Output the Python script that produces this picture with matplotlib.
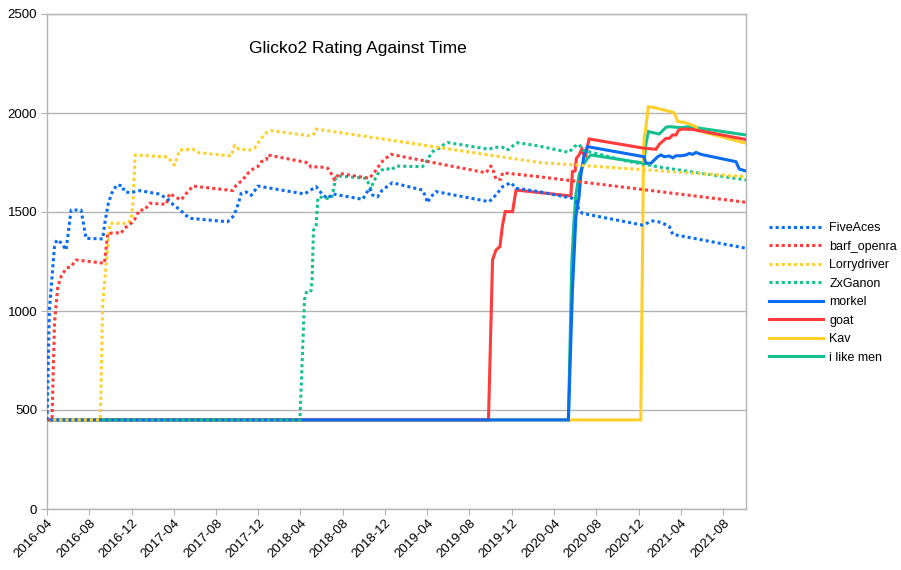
import matplotlib
matplotlib.use("Agg")
import matplotlib.pyplot as plt
import matplotlib.dates as mdates
from datetime import datetime, timedelta

# x values are decimal years, y values are Glicko2 ratings
fiveaces_t = [2016.25, 2016.268, 2016.308, 2016.326, 2016.363, 2016.400, 2016.439, 2016.518, 2016.557,
              2016.688, 2016.707, 2016.733, 2016.759, 2016.799, 2016.844, 2016.859, 2016.904, 2016.983,
              2017.127, 2017.193, 2017.246, 2017.299, 2017.338, 2017.377, 2017.671, 2017.713, 2017.740,
              2017.766, 2017.779, 2017.819, 2017.858, 2017.884, 2017.910, 2018.279, 2018.371, 2018.423,
              2018.462, 2018.502, 2018.738, 2018.791, 2018.815, 2018.854, 2018.893, 2018.972, 2019.209,
              2019.238, 2019.248, 2019.277, 2019.317, 2019.737, 2019.790, 2019.842, 2019.908, 2019.948,
              2020.133, 2020.394, 2020.421, 2020.447, 2020.473, 2020.946, 2021.025, 2021.091, 2021.157,
              2021.183, 2021.761]
fiveaces_r = [450, 1005, 1325, 1359, 1343, 1308, 1510, 1510, 1367,
              1364, 1451, 1544, 1594, 1636, 1633, 1603, 1597, 1608,
              1591, 1569, 1535, 1510, 1485, 1468, 1451, 1476, 1510,
              1564, 1594, 1601, 1584, 1606, 1631, 1591, 1628, 1586,
              1569, 1591, 1564, 1620, 1586, 1576, 1611, 1648, 1611,
              1574, 1547, 1577, 1603, 1552, 1586, 1628, 1648, 1620,
              1603, 1569, 1552, 1510, 1493, 1434, 1455, 1448, 1426,
              1387, 1317]

barf_t = [2016.25, 2016.289, 2016.308, 2016.334, 2016.360, 2016.400, 2016.439, 2016.479, 2016.702,
          2016.728, 2016.794, 2016.833, 2016.859, 2016.899, 2016.938, 2016.978, 2017.017, 2017.057,
          2017.188, 2017.214, 2017.254, 2017.306, 2017.346, 2017.398, 2017.713, 2017.740, 2017.792,
          2017.819, 2017.858, 2017.910, 2017.937, 2017.977, 2017.989, 2018.305, 2018.331, 2018.397,
          2018.462, 2018.489, 2018.515, 2018.554, 2018.791, 2018.844, 2018.883, 2018.909, 2018.962,
          2019.711, 2019.750, 2019.763, 2019.790, 2019.829, 2019.842, 2020.133, 2021.761]
barf_r = [450, 453, 938, 1123, 1173, 1216, 1224, 1258, 1241,
          1392, 1395, 1392, 1418, 1434, 1460, 1510, 1510, 1544,
          1539, 1594, 1577, 1561, 1594, 1631, 1608, 1636, 1662,
          1687, 1712, 1729, 1754, 1763, 1788, 1749, 1726, 1729,
          1721, 1695, 1662, 1695, 1670, 1712, 1749, 1766, 1791,
          1698, 1732, 1721, 1665, 1665, 1698, 1678, 1549]

lorry_t = [2016.25, 2016.670, 2016.688, 2016.733, 2016.747, 2016.891, 2016.917, 2016.930, 2016.944,
           2017.198, 2017.254, 2017.293, 2017.398, 2017.437, 2017.701, 2017.727, 2017.761, 2017.845,
           2017.884, 2017.910, 2017.937, 2017.977, 2018.016, 2018.331, 2018.357, 2018.371, 2020.133,
           2021.761]
lorry_r = [450, 450, 1030, 1359, 1443, 1443, 1476, 1577, 1788,
           1778, 1737, 1813, 1817, 1800, 1783, 1838, 1817, 1813,
           1822, 1847, 1872, 1900, 1911, 1884, 1897, 1919, 1750,
           1678]

zx_t = [2016.25, 2018.243, 2018.279, 2018.297, 2018.331, 2018.339, 2018.350, 2018.371, 2018.383,
        2018.391, 2018.450, 2018.489, 2018.507, 2018.527, 2018.554, 2018.765, 2018.791, 2018.804,
        2018.822, 2018.846, 2018.870, 2018.923, 2018.962, 2019.001, 2019.211, 2019.251, 2019.277,
        2019.304, 2019.343, 2019.382, 2019.408, 2019.684, 2019.737, 2019.776, 2019.842, 2019.869,
        2019.895, 2019.921, 2019.960, 2020.131, 2020.367, 2020.407, 2020.446, 2020.473, 2020.815,
        2021.077, 2021.761]
zx_r = [450, 450, 1056, 1102, 1102, 1157, 1409, 1426, 1561,
        1577, 1569, 1569, 1611, 1677, 1682, 1670, 1636, 1615,
        1653, 1678, 1707, 1721, 1712, 1732, 1729, 1763, 1796,
        1813, 1822, 1842, 1851, 1822, 1817, 1827, 1827, 1813,
        1817, 1833, 1850, 1833, 1801, 1830, 1842, 1813, 1758,
        1727, 1662]

morkel_t = [2016.25, 2020.362, 2020.394, 2020.421, 2020.433, 2020.446, 2020.460, 2020.486, 2020.512,
            2020.959, 2020.972, 2021.012, 2021.038, 2021.064, 2021.091, 2021.117, 2021.156, 2021.182,
            2021.209, 2021.248, 2021.288, 2021.314, 2021.340, 2021.367, 2021.406, 2021.682, 2021.708,
            2021.761]
morkel_r = [450, 450, 1106, 1476, 1527, 1576, 1687, 1788, 1830,
            1779, 1746, 1746, 1763, 1779, 1788, 1779, 1783, 1774,
            1784, 1784, 1788, 1796, 1791, 1801, 1791, 1754, 1717,
            1707]

goat_t = [2016.25, 2019.731, 2019.763, 2019.790, 2019.821, 2019.842, 2019.863, 2019.921, 2019.948,
          2020.381, 2020.394, 2020.415, 2020.425, 2020.446, 2020.468, 2020.486, 2020.499, 2020.512,
          2020.525, 2020.959, 2021.051, 2021.077, 2021.130, 2021.156, 2021.182, 2021.209, 2021.230,
          2021.261, 2021.340, 2021.761]
goat_r = [450, 450, 1258, 1308, 1325, 1434, 1502, 1502, 1611,
          1581, 1704, 1707, 1771, 1788, 1818, 1788, 1784, 1830,
          1869, 1822, 1817, 1842, 1872, 1872, 1889, 1889, 1914,
          1919, 1917, 1866]

kav_t = [2016.25, 2020.933, 2020.955, 2020.959, 2020.972, 2020.993, 2021.038, 2021.188, 2021.209,
         2021.222, 2021.275, 2021.367, 2021.379, 2021.761]
kav_r = [450, 450, 1813, 1869, 1923, 2032, 2027, 2003, 1981,
         1957, 1953, 1931, 1912, 1847]

men_t = [2016.25, 2020.362, 2020.389, 2020.407, 2020.421, 2020.446, 2020.478, 2020.512, 2020.539,
         2020.959, 2020.972, 2020.993, 2021.077, 2021.130, 2021.156, 2021.248, 2021.314, 2021.761]
men_r = [450, 450, 1247, 1468, 1586, 1687, 1737, 1771, 1788,
         1747, 1838, 1906, 1894, 1928, 1931, 1926, 1931, 1889]

names = ["FiveAces", "barf_openra", "Lorrydriver", "ZxGanon", "morkel", "goat", "Kav", "i like men"]
colors = ["#0a6cf2", "#ff3b3b", "#ffd02a", "#14c08f", "#0a6cf2", "#ff3b3b", "#ffd02a", "#14c08f"]
series = [(fiveaces_t, fiveaces_r), (barf_t, barf_r), (lorry_t, lorry_r), (zx_t, zx_r),
          (morkel_t, morkel_r), (goat_t, goat_r), (kav_t, kav_r), (men_t, men_r)]


def to_date(y):
    base = datetime(int(y), 1, 1)
    return base + timedelta(days=(y - int(y)) * 365.25)


plt.rcParams['font.family'] = ['Liberation Sans', 'DejaVu Sans']

fig = plt.figure(figsize=(9.01, 5.70), dpi=100)
ax = fig.add_axes([47 / 901, 1 - 509 / 570, (746 - 47) / 901, (509 - 14) / 570])

grid_col = "#b3b3b3"
for i, (t, r) in enumerate(series):
    dates = [to_date(v) for v in t]
    if i < 4:
        ax.plot(dates, r, color=colors[i], lw=2.2, linestyle=(0, (1, 1)),
                label=names[i], zorder=20 - i)
    else:
        ax.plot(dates, r, color=colors[i], lw=2.2, solid_joinstyle='miter',
                label=names[i], zorder=20 - i)

ax.set_ylim(0, 2500)
ax.set_yticks([0, 500, 1000, 1500, 2000, 2500])
ax.set_xlim(datetime(2016, 4, 1), to_date(2021.761))
ax.xaxis.set_major_locator(mdates.MonthLocator(bymonth=[4, 8, 12]))
ax.xaxis.set_major_formatter(mdates.DateFormatter("%Y-%m"))
for lab in ax.get_xticklabels():
    lab.set_rotation(45)
    lab.set_ha('right')
    lab.set_rotation_mode('anchor')

ax.grid(axis='y', color=grid_col, lw=1)
ax.set_axisbelow(True)
for s in ax.spines.values():
    s.set_color(grid_col)
    s.set_linewidth(1)
ax.tick_params(axis='both', color=grid_col, length=4, labelsize=9.5, labelcolor='black')
ax.tick_params(axis='y', pad=3)
ax.tick_params(axis='x', pad=2)

fig.text(358 / 901, 1 - 48 / 570, "Glicko2 Rating Against Time", ha='center', va='center', fontsize=12.5)

handles, labels = ax.get_legend_handles_labels()
fig.legend(handles, labels, loc='upper left', bbox_to_anchor=(758 / 901, 1 - 211 / 570),
           frameon=False, fontsize=9, handlelength=4.3, handletextpad=0.5, labelspacing=0.52)

fig.savefig("out.png", dpi=100)
